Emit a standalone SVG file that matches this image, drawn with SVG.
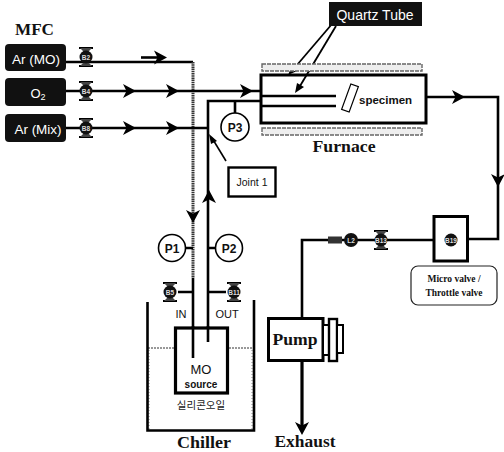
<svg xmlns="http://www.w3.org/2000/svg" width="504" height="452" viewBox="0 0 504 452">
<style>
.l{fill:none;stroke:#000;stroke-width:2.6}
.t{fill:none;stroke:#000;stroke-width:3.2}
.h{fill:#eee;stroke:#666;stroke-width:1.400;stroke-dasharray:4 1}
.s{font-family:"Liberation Sans",sans-serif;fill:#111}
.f{font-family:"Liberation Serif",serif;font-weight:bold;fill:#111}
.w{font-family:"Liberation Sans",sans-serif;fill:#fff}
.m{fill:#111;rx:4px}
.v{font-family:"Liberation Sans",sans-serif;font-size:6.5px;font-weight:bold;fill:#ddd;text-anchor:middle}
.c{fill:#fff;stroke:#000;stroke-width:1.6}
</style>
<defs>
<path id="ah" d="M-6,-7 L7,0 L-6,7 L-2.500,0 Z" fill="#000"/>
<g id="valve"><path d="M-7,-9 H7 M-7,9 H7" stroke="#000" stroke-width="2"/><path d="M-6,-9 L0,-3 L6,-9 Z M-6,9 L0,3 L6,9 Z" fill="#444"/><circle r="6.500" fill="#111"/></g>
</defs>
<g id="connectors">
<path class="l" d="M66,62 H193"/>
<path d="M193,62 V278" fill="none" stroke="#333" stroke-width="3" stroke-dasharray="1.500 0.700"/>
<path class="l" d="M193,278 V358"/>
<path class="l" d="M66,91 H262"/>
<path class="l" d="M66,128 H208"/>
<path class="l" d="M262,101 H208 V342"/>
<path class="l" d="M235,101 V114"/>
<path class="l" d="M262,96 H336 M262,106 H336"/>
<path class="l" d="M426,97 H498 V239 H468"/>
<path class="l" d="M433,240 H302 V318"/>
<path class="t" d="M302,361 V428"/>
<path class="l" d="M184,248 H193 M208,248 H217"/>
<path class="l" d="M178,292 H193 M208,292 H226"/>
<path d="M141,57.500 H160" stroke="#000" stroke-width="2.600" fill="none"/>
<use href="#ah" transform="translate(160,57.500)"/>
<use href="#ah" transform="translate(129,91)"/><use href="#ah" transform="translate(172,91)"/><use href="#ah" transform="translate(246,91)"/>
<use href="#ah" transform="translate(129,128)"/><use href="#ah" transform="translate(172,128)"/>
<use href="#ah" transform="translate(193,216) rotate(90)"/>
<use href="#ah" transform="translate(209,197) rotate(-90)"/>
<use href="#ah" transform="translate(458,97)"/>
<use href="#ah" transform="translate(498,180) rotate(90)"/>
<use href="#ah" transform="translate(302,428) rotate(90)"/>
<path d="M226,161 L212,138" stroke="#000" stroke-width="1.600"/>
<path d="M209,134 L217,141 L211,144 Z" fill="#000"/>
<path d="M332,24 L291,72" stroke="#000" stroke-width="1.800"/>
<path d="M288,75 L292,66 L297,71 Z" fill="#000"/>
<path d="M336,26 L300,86" stroke="#000" stroke-width="1.800"/>
<path d="M295,93 L297,83 L304,87 Z" fill="#000"/>
</g>
<g id="mfc">
<text class="f" x="15" y="35" font-size="17" textLength="39" lengthAdjust="spacingAndGlyphs">MFC</text>
<g id="mfc-ar-mo"><rect class="m" x="5" y="44" width="61" height="27"/><text class="w" x="36" y="64" font-size="13.500" text-anchor="middle">Ar (MO)</text></g>
<g id="mfc-o2"><rect class="m" x="5" y="78" width="61" height="28"/><text class="w" x="38" y="98" font-size="13" text-anchor="middle">O<tspan font-size="9" dy="2">2</tspan></text></g>
<g id="mfc-ar-mix"><rect class="m" x="5" y="114" width="61" height="28"/><text class="w" x="38" y="134" font-size="13.500" text-anchor="middle">Ar (Mix)</text></g>
</g>
<g id="valve-b2"><use href="#valve" x="86" y="57"/><text class="v" x="86" y="59.500">B2</text></g>
<g id="valve-b4"><use href="#valve" x="86" y="91"/><text class="v" x="86" y="93.500">B4</text></g>
<g id="valve-b8"><use href="#valve" x="86" y="128"/><text class="v" x="86" y="130.500">B8</text></g>
<g id="valve-b5"><use href="#valve" x="170" y="292"/><text class="v" x="170" y="294.500">B5</text></g>
<g id="valve-b11"><use href="#valve" x="234" y="292"/><text class="v" x="234" y="294.500">B11</text></g>
<g id="valve-b13"><use href="#valve" x="381" y="240"/><text class="v" x="381" y="242.500">B13</text></g>
<g id="quartz-label"><rect x="329" y="2" width="93" height="24" fill="#111"/><text class="w" x="375" y="20" font-size="14" text-anchor="middle">Quartz Tube</text></g>
<g id="furnace">
<rect class="h" x="262" y="64" width="160" height="7"/>
<rect class="h" x="262" y="128" width="160" height="7"/>
<rect x="261" y="75" width="165" height="48" fill="none" stroke="#000" stroke-width="3"/>
<rect x="-4" y="-13.500" width="8" height="27" transform="translate(350,98) rotate(20)" fill="#fff" stroke="#000" stroke-width="1.200"/>
<text class="s" x="359" y="104" font-size="11.500" font-weight="bold">specimen</text>
<text class="f" x="344" y="152" font-size="17" text-anchor="middle" textLength="63" lengthAdjust="spacingAndGlyphs">Furnace</text>
</g>
<g id="p3"><circle class="c" cx="235" cy="127" r="14"/><text class="s" x="235" y="132" font-size="12" font-weight="bold" text-anchor="middle">P3</text></g>
<g id="joint"><rect x="228.500" y="167.500" width="47" height="29" fill="#fff" stroke="#000" stroke-width="2.400"/><text class="s" x="252" y="186" font-size="10.500" text-anchor="middle">Joint 1</text></g>
<g id="p1"><circle class="c" cx="172" cy="248" r="13.500"/><text class="s" x="172" y="253" font-size="12" font-weight="bold" text-anchor="middle">P1</text></g>
<g id="p2"><circle class="c" cx="229" cy="248" r="13.500"/><text class="s" x="229" y="253" font-size="12" font-weight="bold" text-anchor="middle">P2</text></g>
<g id="chiller">
<path d="M148,348 H174 M229,348 H254" stroke="#333" stroke-width="1" stroke-dasharray="2 1" fill="none"/>
<path d="M149,350 V430 M252,350 V430" stroke="#888" stroke-width="1" stroke-dasharray="1 2" fill="none"/>
<path class="l" d="M147.500,302 V430.500 H254 V300"/>
<text class="s" x="181" y="318" font-size="11" text-anchor="middle">IN</text>
<text class="s" x="227" y="318" font-size="11" text-anchor="middle">OUT</text>
<text class="f" x="204" y="448" font-size="17" text-anchor="middle" textLength="54" lengthAdjust="spacingAndGlyphs">Chiller</text>
</g>
<g id="mo-source">
<rect x="175.500" y="328" width="52" height="65" fill="#fff" stroke="#000" stroke-width="3.200"/>
<path class="l" d="M193,326 V358 M208,326 V342"/>
<text class="s" x="201" y="374" font-size="13" text-anchor="middle">MO</text>
<text class="s" x="201" y="388" font-size="10" font-weight="bold" text-anchor="middle">source</text>
<text x="201" y="409" font-size="10.500" text-anchor="middle" fill="#222" font-family="'Noto Sans CJK KR',sans-serif">실리콘오일</text>
</g>
<g id="throttle">
<rect x="434" y="216.500" width="33.500" height="44.500" fill="#fff" stroke="#000" stroke-width="3"/>
<circle cx="451" cy="240" r="6.500" fill="#111"/><text class="v" x="451" y="242.500">B19</text>
<rect x="411" y="266" width="86" height="39" rx="7" fill="#fff" stroke="#222" stroke-width="1.200"/>
<text class="f" x="454" y="282" font-size="9.500" text-anchor="middle">Micro valve /</text>
<text class="f" x="454" y="296" font-size="9.500" text-anchor="middle">Throttle valve</text>
</g>
<g id="joint-l2">
<rect x="328" y="236.500" width="14" height="7" fill="#333"/><circle cx="351" cy="240" r="7" fill="#111"/><text class="v" x="351" y="242.500">L2</text>
</g>
<g id="pump">
<rect x="268.500" y="318.500" width="54.500" height="42" fill="#fff" stroke="#000" stroke-width="3"/>
<rect x="323" y="325" width="6" height="30" fill="#fff" stroke="#000" stroke-width="2"/>
<rect x="329" y="319" width="8" height="42" fill="#fff" stroke="#000" stroke-width="2.400"/>
<rect x="337" y="325" width="6" height="28" fill="#fff" stroke="#000" stroke-width="2"/>
<text class="f" x="295" y="345" font-size="17" text-anchor="middle" textLength="45" lengthAdjust="spacingAndGlyphs">Pump</text>
<text class="f" x="305" y="447" font-size="17" text-anchor="middle" textLength="61" lengthAdjust="spacingAndGlyphs">Exhaust</text>
</g>
</svg>
